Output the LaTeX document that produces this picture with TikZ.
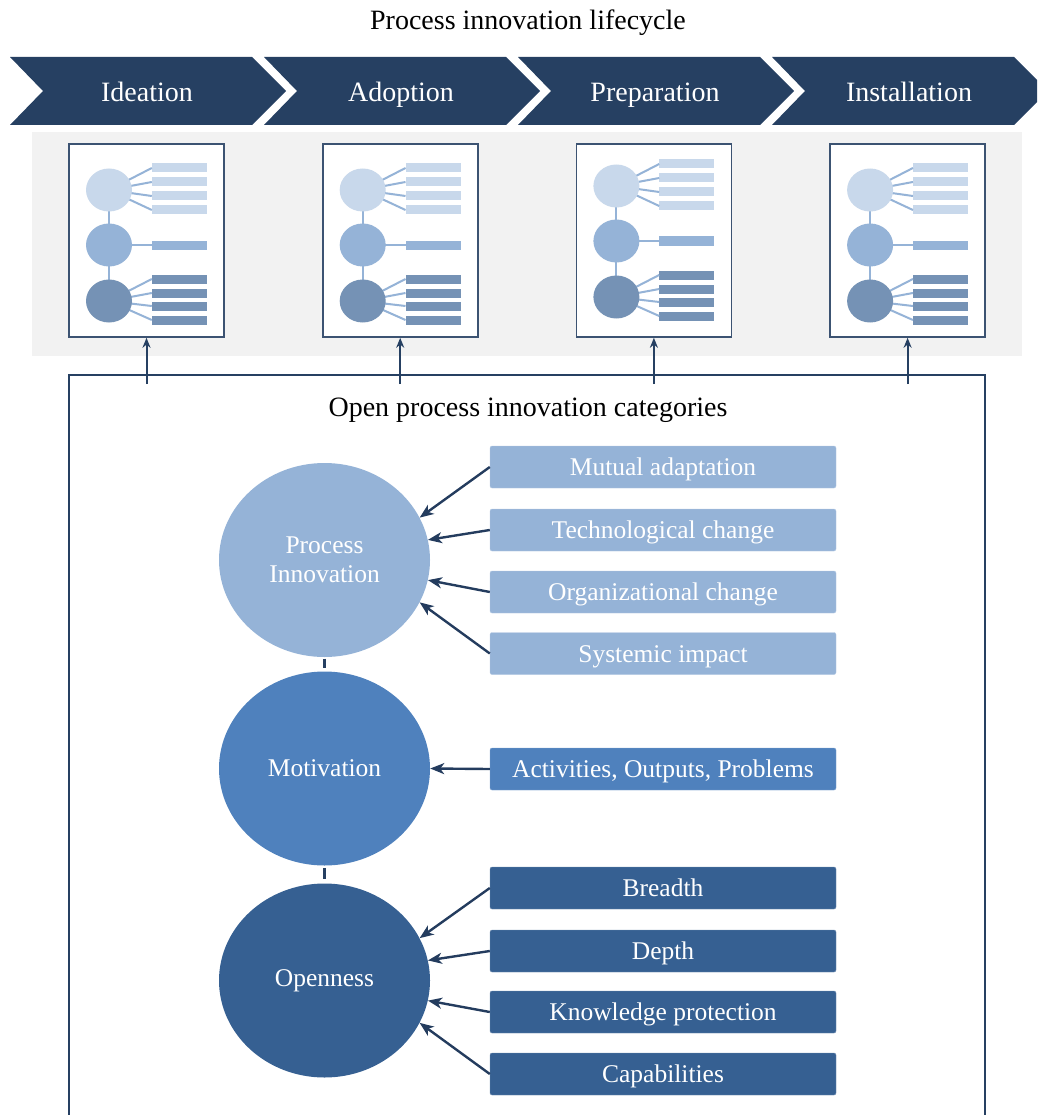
\documentclass[tikz,border=0pt]{standalone}
\usepackage{fontspec}
\setmainfont{Liberation Serif}
\usetikzlibrary{shapes.geometric,arrows.meta}
\definecolor{navy}{RGB}{38,64,98}
\definecolor{lightc}{RGB}{200,216,235}
\definecolor{midc}{RGB}{149,179,215}
\definecolor{darkc}{RGB}{117,146,181}
\definecolor{motc}{RGB}{79,129,189}
\definecolor{opc}{RGB}{54,96,146}
\definecolor{band}{RGB}{242,242,242}
\definecolor{arrowc}{RGB}{36,60,94}
\begin{document}
\begin{tikzpicture}[x=1pt,y=-1pt,
 chevtext/.style={text=white, font=\fontsize{28}{32}\selectfont, anchor=base, inner sep=0},
 docbox/.style={draw=navy!90, line width=1.6pt, fill=white, minimum width=155pt, minimum height=193pt, inner sep=0},
 minic/.style={ellipse, minimum width=46pt, minimum height=43pt, inner sep=0},
 bar/.style={rectangle, minimum width=55pt, minimum height=9pt, inner sep=0},
 docline/.style={midc, line width=2pt},
 uparr/.style={navy, line width=2pt, -{Stealth[length=10pt,width=8pt]}},
 bigell/.style={ellipse, minimum width=211pt, minimum height=194pt, inner sep=0, text=white, align=center, font=\fontsize{25.5}{29}\selectfont},
 catbox/.style={rectangle, rounded corners=2pt, minimum width=346pt, minimum height=42pt, inner sep=0, text=white, font=\fontsize{25.5}{29}\selectfont, text height=17pt, text depth=0pt},
 arr/.style={arrowc, line width=2.4pt, -{Stealth[length=14pt,width=11pt,inset=4pt]}},
 tick/.style={navy, line width=2.4pt},
 plaintext/.style={font=\fontsize{28}{32}\selectfont, anchor=base, inner sep=0}
]
\useasboundingbox (0,0) rectangle (1037,1115);
\clip (0,0) rectangle (1037,1115);

% title
\node[plaintext] (title) at (528,30) {Process innovation lifecycle};

% chevrons
\foreach \i/\t in {0/Ideation,1/Adoption,2/Preparation,3/Installation} {
  \pgfmathsetmacro\L{10+254*\i}
  \fill[navy] (\L,57) -- (\L+242,57) -- (\L+276,91) -- (\L+242,125) -- (\L,125) -- (\L+33,91) -- cycle;
  \node[chevtext] (chev\i) at (\L+137,102) {\t};
}

% grey band
\fill[band] (32,132) rectangle (1022,356);

% mini documents
\foreach \i/\dy in {0/0,1/0,2/-4,3/0} {
  \pgfmathsetmacro\L{69+253.7*\i}
  \node[docbox] (doc\i) at (\L+77.5,240.5) {};
  \coordinate (ca\i) at (\L+40,190+\dy);
  \coordinate (cb\i) at (\L+40,245+\dy);
  \coordinate (cc\i) at (\L+40,301+\dy);
  \draw[docline] (ca\i) -- (cc\i);
  \foreach \j/\y in {1/168,2/182,3/196,4/210} {
    \node[bar, fill=lightc] (la\i\j) at (\L+110.5,\y+\dy) {};
    \draw[docline] (ca\i) -- (la\i\j.west);
  }
  \node[bar, fill=midc] (lb\i) at (\L+110.5,245+\dy) {};
  \draw[docline] (cb\i) -- (lb\i.west);
  \foreach \j/\y in {1/279,2/293,3/306,4/320} {
    \node[bar, fill=darkc] (lc\i\j) at (\L+110.5,\y+\dy) {};
    \draw[docline] (cc\i) -- (lc\i\j.west);
  }
  \node[minic, fill=lightc] (ma\i) at (ca\i) {};
  \node[minic, fill=midc] (mb\i) at (cb\i) {};
  \node[minic, fill=darkc] (mc\i) at (cc\i) {};
  \coordinate (u\i) at (\L+77.5,384);
  \draw[uparr] (u\i) -- (doc\i.south);
}

% categories frame
\draw[navy, line width=1.4pt] (69,1125) -- (69,375) -- (985,375) -- (985,1125);
\node[plaintext] (cattitle) at (528,416) {Open process innovation categories};

% big ellipses
\node[bigell, fill=midc] (pi) at (324.5,560) {Process\\Innovation};
\node[bigell, fill=motc] (mot) at (324.5,768.5) {Motivation};
\node[bigell, fill=opc] (op) at (324.5,980.5) {Openness};
\draw[tick, shorten <=1.5pt, shorten >=3pt] (pi.south) -- (mot.north);
\draw[tick, shorten <=2.5pt, shorten >=4pt] (mot.south) -- (op.north);

% boxes
\node[catbox, fill=midc, draw=midc!70!white] (b1) at (663,467) {Mutual adaptation};
\node[catbox, fill=midc, draw=midc!70!white] (b2) at (663,530) {Technological change};
\node[catbox, fill=midc, draw=midc!70!white] (b3) at (663,592) {Organizational change};
\node[catbox, fill=midc, draw=midc!70!white] (b4) at (663,653.5) {Systemic impact};
\node[catbox, fill=motc, draw=motc!70!white] (b5) at (663,769) {Activities, Outputs, Problems};
\node[catbox, fill=opc, draw=opc!70!white] (b6) at (663,888) {Breadth};
\node[catbox, fill=opc, draw=opc!70!white] (b7) at (663,951) {Depth};
\node[catbox, fill=opc, draw=opc!70!white] (b8) at (663,1012) {Knowledge protection};
\node[catbox, fill=opc, draw=opc!70!white] (b9) at (663,1074) {Capabilities};

% arrows
\draw[arr] (b1.west) -- (pi.24);
\draw[arr] (b2.west) -- (pi.11);
\draw[arr] (b3.west) -- (pi.-11);
\draw[arr] (b4.west) -- (pi.-24);
\draw[arr] (b5.west) -- (mot.east);
\draw[arr] (b6.west) -- (op.24);
\draw[arr] (b7.west) -- (op.11);
\draw[arr] (b8.west) -- (op.-11);
\draw[arr] (b9.west) -- (op.-24);
\end{tikzpicture}
\end{document}
